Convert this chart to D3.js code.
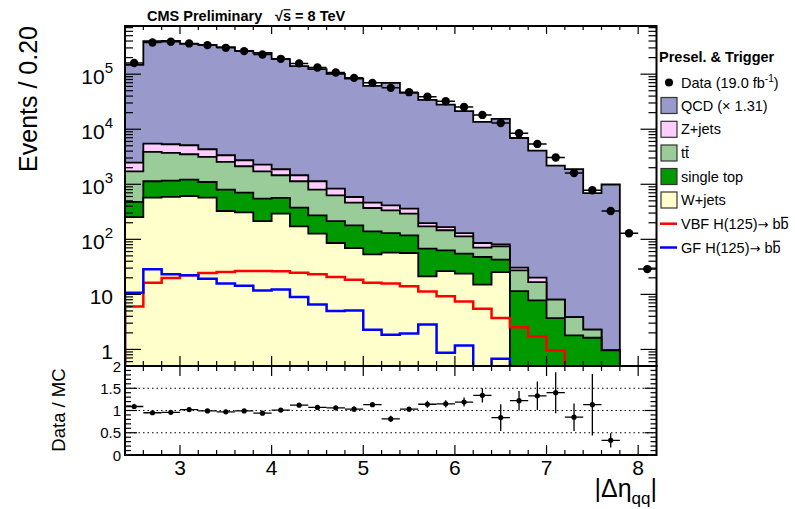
<!DOCTYPE html>
<html><head><meta charset="utf-8">
<script src="https://cdn.jsdelivr.net/npm/d3@7"></script>
<style>
body{margin:0;background:#fff}
svg{display:block}
text{font-family:"Liberation Sans",Arial,Helvetica,sans-serif;fill:#000}
.arr{font-family:"DejaVu Sans",sans-serif}
</style>
</head><body>
<svg id="c" width="795" height="509"></svg>
<script>
// ---------------- data ----------------
const binCenters=[2.5,2.7,2.9,3.1,3.3,3.5,3.7,3.9,4.1,4.3,4.5,4.7,4.9,5.1,5.3,5.5,5.7,5.9,6.1,6.3,6.5,6.7,6.9,7.1,7.3,7.5,7.7,7.9,8.1];
const binWidth=0.2;
const dataCounts=[1.60e5,3.77e5,3.87e5,3.62e5,3.37e5,3.01e5,2.62e5,2.28e5,1.90e5,1.57e5,1.32e5,1.07e5,8.57e4,6.95e4,5.64e4,4.71e4,3.90e4,3.23e4,2.54e4,1.82e4,1.30e4,8460,5410,3060,1600,778,327,129,28.8];
const wjets=[254,573,588,613,573,327,310,215,293,172,127,85.7,69.5,53.4,57.5,56.4,21.2,26.5,23.8,15,25.4,0,0,0,0,0,0,0,0];
const singleTop=[223,561,579,605,528,474,396,335,271,205,146,129,110,86.6,72.5,61.6,46.5,36.6,31.2,32.7,17.3,11.5,7.78,3.71,1.80,1.63,0.96,0,0];
const ttbar=[1245,2732,2540,2293,2034,1742,1419,1172,894,757,528,416,285,231,207,175,104,83,58,22.9,31.9,15.8,8.9,4.3,2.07,0.65,0,0,0];
const zjets=[760,1629,1630,1606,1194,824,606,559,416,324,333,204,123,94,78,68,26,21,17,15.1,6.5,3.3,3.4,0,0,0,0,0,0];
const qcd=[144500,391500,397700,349900,335700,306600,262300,240700,186100,138500,121900,100200,82600,61000,69200,45300,34000,27900,21200,13500,15400,6900,4050,2180,1876,688,989,0,0];
const vbf=[6.05,16.3,19.8,22.2,24.4,25.4,26.5,26.5,26.2,24.8,23.1,20.6,18.5,16.3,15.8,14.0,11.3,9.2,7.46,5.5,3.71,2.54,1.72,0.96,0,0,0,0,0];
const gf=[10.7,28.5,23.1,22.2,19.3,15.7,14.4,11.8,12.2,8.93,6.58,4.97,5.12,2.28,1.85,1.95,2.85,0.87,1.18,0,0.68,0,0,0,0,0,0,0,0];
const ratioVals=[1.09,0.95,0.96,1.02,0.99,0.97,0.99,0.94,1.01,1.12,1.07,1.06,1.03,1.13,0.81,1.03,1.14,1.15,1.19,1.34,0.84,1.22,1.33,1.40,0.85,1.13,0.33];
const ratioErrs=[0.01,0.01,0.01,0.01,0.01,0.01,0.01,0.01,0.01,0.015,0.02,0.02,0.06,0.03,0.07,0.05,0.08,0.08,0.1,0.16,0.3,0.22,0.32,0.46,0.31,0.69,0.16];
const xTicks=[3,4,5,6,7,8];
const yMainTicks=[1,10,100,1000,10000,100000];
const yMainLabels=[["1",""],["10",""],["10","2"],["10","3"],["10","4"],["10","5"]];
const ratioTicks=[0,0.5,1,1.5,2];
const ratioGrid=[0.5,1,1.5];
const stackNames=["W+jets","single top","tt","Z+jets","QCD (\u00d7 1.31)"];
const stackColors=["#ffffcc","#009900","#99cc99","#ffccff","#9999cc"];

// ---------------- layout ----------------
const L=125,R=656.5,T=26,B=366,RB=455;
const svg=d3.select("#c");
const x=d3.scaleLinear().domain([2.4,8.2]).range([L,R]);
const y=d3.scaleLog().domain([0.5,7.5e5]).range([B,T]);
const yr=d3.scaleLinear().domain([0,2]).range([RB,B]);

svg.append("defs").append("clipPath").attr("id","clipMain")
  .append("rect").attr("x",L).attr("y",T).attr("width",R-L).attr("height",B-T);
svg.select("defs").append("clipPath").attr("id","clipRatio")
  .append("rect").attr("x",L).attr("y",B).attr("width",R-L).attr("height",RB-B);

const main=svg.append("g").attr("clip-path","url(#clipMain)");
const line=d3.line();

function stepPts(vals){
  const lowY=B+20;
  const pts=[[x(2.4),lowY]];
  vals.forEach((v,i)=>{
    const lo=binCenters[i]-binWidth/2, hi=lo+binWidth;
    const yy=v>0?y(v):lowY;
    pts.push([x(lo),yy],[x(hi),yy]);
  });
  pts.push([x(8.2),lowY]);
  return pts;
}

// cumulative stack
const layers=[wjets,singleTop,ttbar,zjets,qcd];
const cum=[];
layers.forEach((arr,k)=>{
  cum.push(arr.map((v,i)=>v+(k>0?cum[k-1][i]:0)));
});
for(let k=layers.length-1;k>=0;k--){
  main.append("path").attr("d",line(stepPts(cum[k]))+"Z")
    .attr("fill",stackColors[k]).attr("stroke","#000").attr("stroke-width",1.8)
    .attr("stroke-linejoin","miter");
}
// signal lines
main.append("path").attr("d",line(stepPts(vbf))).attr("fill","none").attr("stroke","#ff0000").attr("stroke-width",2.5);
main.append("path").attr("d",line(stepPts(gf))).attr("fill","none").attr("stroke","#0000ff").attr("stroke-width",2.5);

// data points
const dg=main.append("g");
dataCounts.forEach((v,i)=>{
  const c=binCenters[i];
  dg.append("line").attr("x1",x(c-binWidth/2)).attr("x2",x(c+binWidth/2))
    .attr("y1",y(v)).attr("y2",y(v)).attr("stroke","#000").attr("stroke-width",1.5);
  dg.append("circle").attr("cx",x(c)).attr("cy",y(v)).attr("r",4.2).attr("fill","#000");
});

// ---------------- main axes ----------------
const ax=svg.append("g").attr("stroke","#000");
for(let i=0;i<=29;i++){
  const v=2.4+i*0.2;
  const major=Math.abs(v-Math.round(v))<1e-6;
  const len=major?10:5;
  ax.append("line").attr("x1",x(v)).attr("x2",x(v)).attr("y1",B).attr("y2",B-len).attr("stroke-width",1.2);
  ax.append("line").attr("x1",x(v)).attr("x2",x(v)).attr("y1",T).attr("y2",T+(major?8:4)).attr("stroke-width",1.2);
}
for(let e=-1;e<=5;e++){
  for(let k=1;k<=9;k++){
    const v=k*Math.pow(10,e);
    if(v<0.5||v>7.5e5) continue;
    const len=k===1?16:8;
    ax.append("line").attr("x1",L).attr("x2",L+len).attr("y1",y(v)).attr("y2",y(v)).attr("stroke-width",1.2);
    ax.append("line").attr("x1",R).attr("x2",R-len).attr("y1",y(v)).attr("y2",y(v)).attr("stroke-width",1.2);
  }
}
svg.append("rect").attr("x",L).attr("y",T).attr("width",R-L).attr("height",B-T)
  .attr("fill","none").attr("stroke","#000").attr("stroke-width",2);

yMainTicks.forEach((v,i)=>{
  const t=svg.append("text").attr("x",113).attr("y",y(v)+10).attr("text-anchor","end").attr("font-size",21);
  const lab=yMainLabels[i];
  t.append("tspan").text(lab[0]);
  if(lab[1]) t.append("tspan").attr("dy",-11).attr("font-size",15).text(lab[1]);
});

// ---------------- ratio panel ----------------
const rg=svg.append("g");
ratioGrid.forEach(v=>{
  rg.append("line").attr("x1",L).attr("x2",R).attr("y1",yr(v)).attr("y2",yr(v))
    .attr("stroke","#000").attr("stroke-width",1).attr("stroke-dasharray","1.5,3");
});
const rp=svg.append("g").attr("clip-path","url(#clipRatio)");
ratioVals.forEach((v,i)=>{
  const c=binCenters[i], e=ratioErrs[i];
  rp.append("line").attr("x1",x(c-binWidth/2)).attr("x2",x(c+binWidth/2))
    .attr("y1",yr(v)).attr("y2",yr(v)).attr("stroke","#000").attr("stroke-width",1.3);
  rp.append("line").attr("x1",x(c)).attr("x2",x(c))
    .attr("y1",yr(v-e)).attr("y2",yr(v+e)).attr("stroke","#000").attr("stroke-width",1.3);
  rp.append("circle").attr("cx",x(c)).attr("cy",yr(v)).attr("r",2.6).attr("fill","#000");
});
const rax=svg.append("g").attr("stroke","#000");
for(let i=0;i<=29;i++){
  const v=2.4+i*0.2;
  const major=Math.abs(v-Math.round(v))<1e-6;
  const len=major?10:5;
  rax.append("line").attr("x1",x(v)).attr("x2",x(v)).attr("y1",RB).attr("y2",RB-len).attr("stroke-width",1.2);
  rax.append("line").attr("x1",x(v)).attr("x2",x(v)).attr("y1",B).attr("y2",B+len).attr("stroke-width",1.2);
}
for(let i=0;i<=20;i++){
  const v=i*0.1;
  const major=i%5===0;
  const len=major?12:6;
  rax.append("line").attr("x1",L).attr("x2",L+len).attr("y1",yr(v)).attr("y2",yr(v)).attr("stroke-width",1.2);
  rax.append("line").attr("x1",R).attr("x2",R-len).attr("y1",yr(v)).attr("y2",yr(v)).attr("stroke-width",1.2);
}
svg.append("rect").attr("x",L).attr("y",B).attr("width",R-L).attr("height",RB-B)
  .attr("fill","none").attr("stroke","#000").attr("stroke-width",2);
ratioTicks.forEach(v=>{
  svg.append("text").attr("x",121).attr("y",yr(v)+5.5).attr("text-anchor","end").attr("font-size",15)
    .text(d3.format("~g")(v));
});
xTicks.forEach(v=>{
  svg.append("text").attr("x",x(v)).attr("y",475).attr("text-anchor","middle").attr("font-size",21).text(v);
});

// ---------------- titles ----------------
svg.append("text").attr("transform","translate(37,26) rotate(-90)").attr("text-anchor","end")
  .attr("font-size",25).text("Events / 0.20");
svg.append("text").attr("transform","translate(65,410) rotate(-90)").attr("text-anchor","middle")
  .attr("font-size",18.5).text("Data / MC");
const xt=svg.append("text").attr("x",657).attr("y",497).attr("text-anchor","end").attr("font-size",25);
xt.append("tspan").text("|\u0394\u03b7");
xt.append("tspan").attr("dy",7).attr("font-size",17).text("qq");
xt.append("tspan").attr("dy",-7).text("|");

svg.append("text").attr("x",147).attr("y",21).attr("font-size",14.5).attr("font-weight","bold").text("CMS Preliminary");
const rs=svg.append("text").attr("x",275).attr("y",21).attr("font-size",14.5).attr("font-weight","bold").text("\u221as = 8 TeV");

function overline(textSel,idx,fs){
  const n=textSel.node();
  const r=n.getExtentOfChar(idx);
  const bbTop=r.y+fs*0.12;
  svg.append("line").attr("x1",r.x+0.5).attr("x2",r.x+r.width-0.5).attr("y1",bbTop).attr("y2",bbTop)
    .attr("stroke","#000").attr("stroke-width",1.2);
}
overline(rs,1,14.5);

// ---------------- legend ----------------
const lg=svg.append("g");
lg.append("text").attr("x",659).attr("y",62).attr("font-size",14.5).attr("font-weight","bold").text("Presel. & Trigger");
const fs=14.5;
lg.append("circle").attr("cx",669).attr("cy",82.5).attr("r",4).attr("fill","#000");
const dt=lg.append("text").attr("x",681).attr("y",82.5+5).attr("font-size",fs);
dt.append("tspan").text("Data (19.0 fb");
dt.append("tspan").attr("dy",-6).attr("font-size",10).text("-1");
dt.append("tspan").attr("dy",6).text(")");
const boxY=[105.5,129.3,153,176.5,200];
const order=[4,3,2,1,0];
order.forEach((k,j)=>{
  const cy=boxY[j];
  lg.append("rect").attr("x",661).attr("y",cy-8).attr("width",16).attr("height",16)
    .attr("fill",stackColors[k]).attr("stroke","#333").attr("stroke-width",1.2);
  const t=lg.append("text").attr("x",681).attr("y",cy+5).attr("font-size",fs).text(stackNames[k]);
  if(k===2) overline(t,1,fs);
});
const sigY=[223.7,247.5];
const sigC=["#ff0000","#0000ff"];
const sigN=[["VBF H(125)","bb"],["GF H(125)","bb"]];
sigY.forEach((cy,j)=>{
  lg.append("line").attr("x1",660).attr("x2",677).attr("y1",cy).attr("y2",cy).attr("stroke",sigC[j]).attr("stroke-width",2.5);
  const t=lg.append("text").attr("x",681).attr("y",cy+5).attr("font-size",fs);
  t.append("tspan").text(sigN[j][0]);
  t.append("tspan").attr("class","arr").attr("font-size",13).text("\u2192");
  t.append("tspan").text(" "+sigN[j][1]);
  overline(t,t.node().getNumberOfChars()-1,fs);
});
</script>
</body></html>
